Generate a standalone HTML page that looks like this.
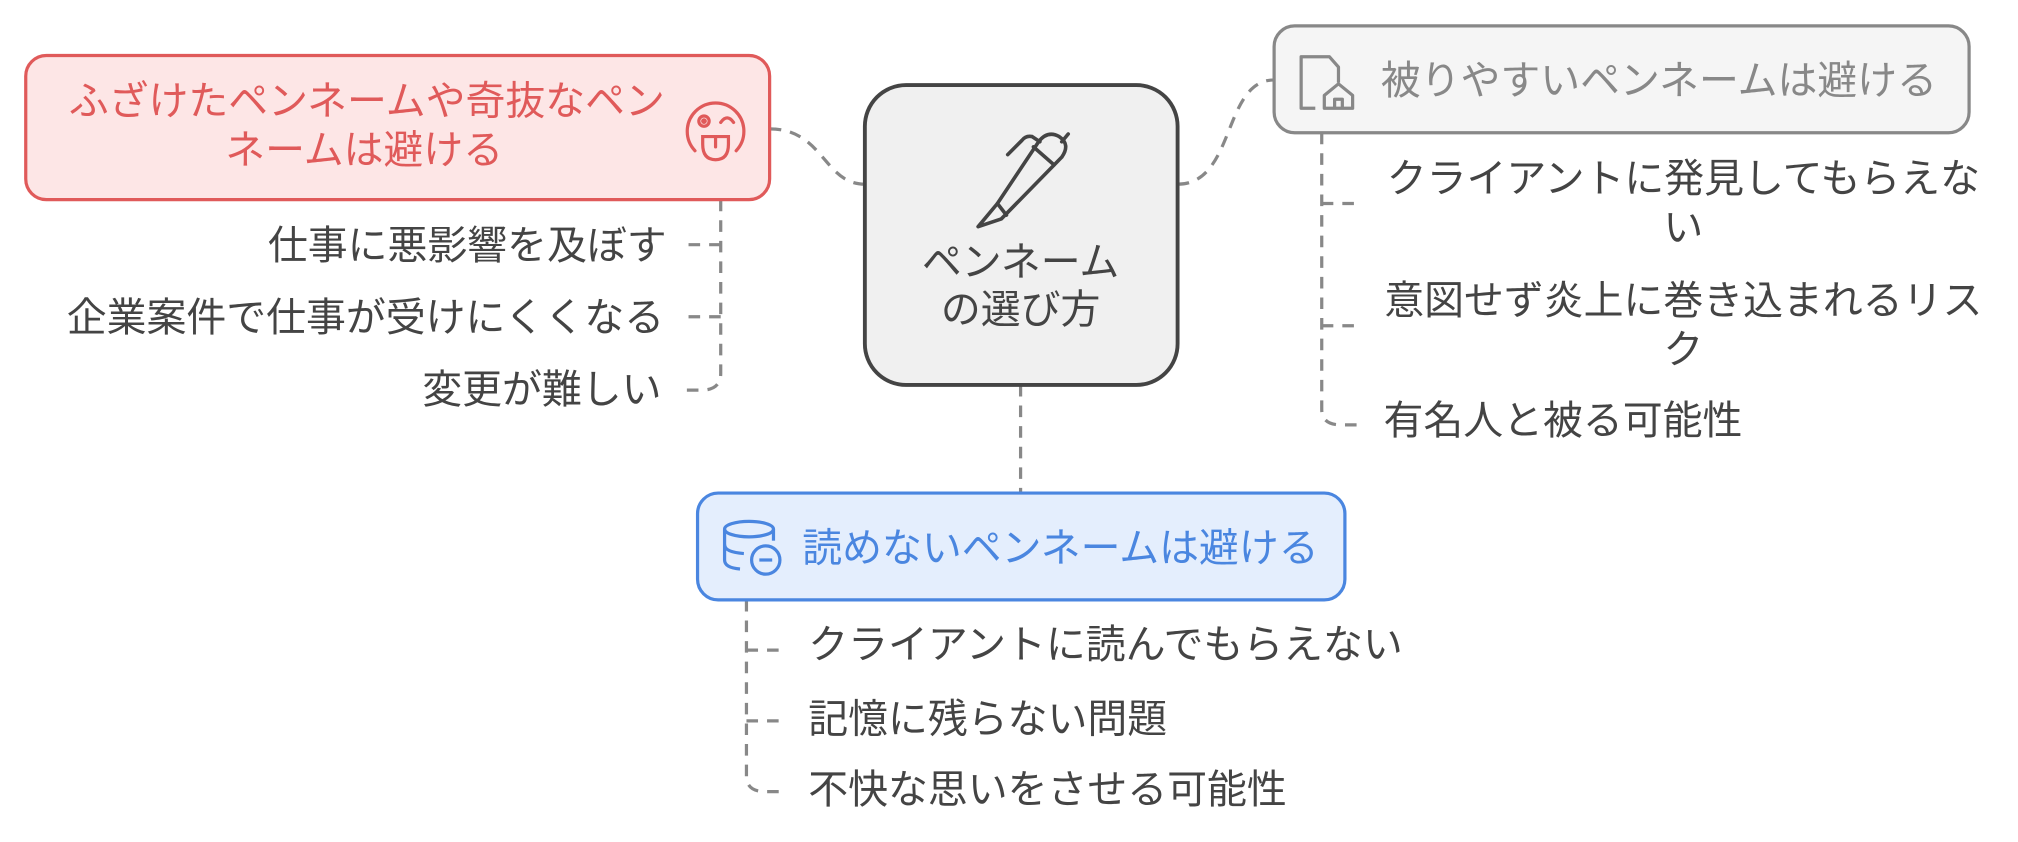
<!DOCTYPE html>
<html><head><meta charset="utf-8"><style>
html,body{margin:0;padding:0;background:#fff}
svg{display:block}
text{font-family:"Liberation Sans","Noto Sans CJK JP",sans-serif}
</style></head><body>
<svg width="2018" height="842" viewBox="0 0 1568 654" xmlns="http://www.w3.org/2000/svg">
<g fill="none" stroke="#888" stroke-width="2.5" stroke-dasharray="9 7">
<path d="M598 100 C640 100 640 143 672 143"/>
<path d="M915 143 C960 143 950 62 990 62"/>
<path d="M793 299 V383"/>
<path d="M560 155 V290 Q560 303 545 303 H530"/>
<path d="M560 190 H530"/>
<path d="M560 246 H530"/>
<path d="M1027 103 V318 Q1027 330 1042 330 H1058"/>
<path d="M1027 158 H1058"/>
<path d="M1027 253 H1058"/>
<path d="M580 466 V603 Q580 615 595 615 H610"/>
<path d="M580 505 H610"/>
<path d="M580 560 H610"/>
</g>
<rect x="20" y="43" width="578" height="112" rx="16" fill="#fde6e6" stroke="#e05a5a" stroke-width="2.5"/>
<rect x="672" y="66" width="243" height="233" rx="32" fill="#f0f0f0" stroke="#444" stroke-width="3"/>
<rect x="990" y="20" width="540" height="83" rx="16" fill="#f5f5f5" stroke="#888" stroke-width="2.5"/>
<rect x="542" y="383" width="503" height="83" rx="16" fill="#e4eefd" stroke="#4a86e0" stroke-width="2.5"/>
<g fill="none" stroke="#e05a5a" stroke-width="2.5" stroke-linecap="round">
<path d="M540 117 A22 22 0 1 1 572 117"/>
<circle cx="547" cy="94" r="4"/><circle cx="547" cy="94" r="1" fill="#e05a5a"/>
<path d="M560 95 Q565 88 570 95"/>
<path d="M546 106 H566 V112 Q566 124 556 124 Q546 124 546 112 Z"/>
<path d="M556 106 V114"/>
</g>
<g fill="none" stroke="#444" stroke-width="2.8" stroke-linecap="round" stroke-linejoin="round">
<path d="M775 158 L760 176 L778 170 L825 122 Q832 112 823 106 Q814 101 807 110 Z"/>
<path d="M775 158 L782 167"/>
<path d="M803 114 L819 128"/>
<path d="M825 110 L830 104"/>
<path d="M808 110 L802 106 Q797 105 794 109 L783 120"/>
</g>
<g fill="none" stroke="#888" stroke-width="2.5" stroke-linejoin="round">
<path d="M1022 84 H1011 V44 H1033 L1040 52 V64"/>
<path d="M1029 84 V74 L1040 65 L1051 74 V84 Z"/>
<path d="M1037 84 V77 H1043 V84"/>
</g>
<g fill="none" stroke="#4a86e0" stroke-width="2.5">
<ellipse cx="582" cy="411" rx="19" ry="6"/>
<path d="M563 411 V435 Q563 441 575 442"/>
<path d="M563 423 Q563 429 578 430"/>
<path d="M601 411 V420"/>
<circle cx="595" cy="435" r="11"/>
<path d="M590 435 H600"/>
</g>
<g font-size="31" text-anchor="middle">
<text x="285" y="89" fill="#e05a5a">ふざけたペンネームや奇抜なペン</text>
<text x="283" y="127" fill="#e05a5a">ネームは避ける</text>
<text x="793" y="214" fill="#444">ペンネーム</text>
<text x="793" y="251" fill="#444">の選び方</text>
<text x="1289" y="73" fill="#888">被りやすいペンネームは避ける</text>
<text x="824" y="436" fill="#4a86e0">読めないペンネームは避ける</text>
<text x="1308" y="149" fill="#444">クライアントに発見してもらえな</text>
<text x="1308" y="187" fill="#444">い</text>
<text x="1308" y="244" fill="#444">意図せず炎上に巻き込まれるリス</text>
<text x="1308" y="282" fill="#444">ク</text>
</g>
<g font-size="31" text-anchor="end" fill="#444">
<text x="518" y="201">仕事に悪影響を及ぼす</text>
<text x="516" y="257">企業案件で仕事が受けにくくなる</text>
<text x="514" y="313">変更が難しい</text>
</g>
<g font-size="31" fill="#444">
<text x="1075" y="337">有名人と被る可能性</text>
<text x="628" y="511">クライアントに読んでもらえない</text>
<text x="628" y="569">記憶に残らない問題</text>
<text x="628" y="624">不快な思いをさせる可能性</text>
</g>
</svg>
</body></html>
